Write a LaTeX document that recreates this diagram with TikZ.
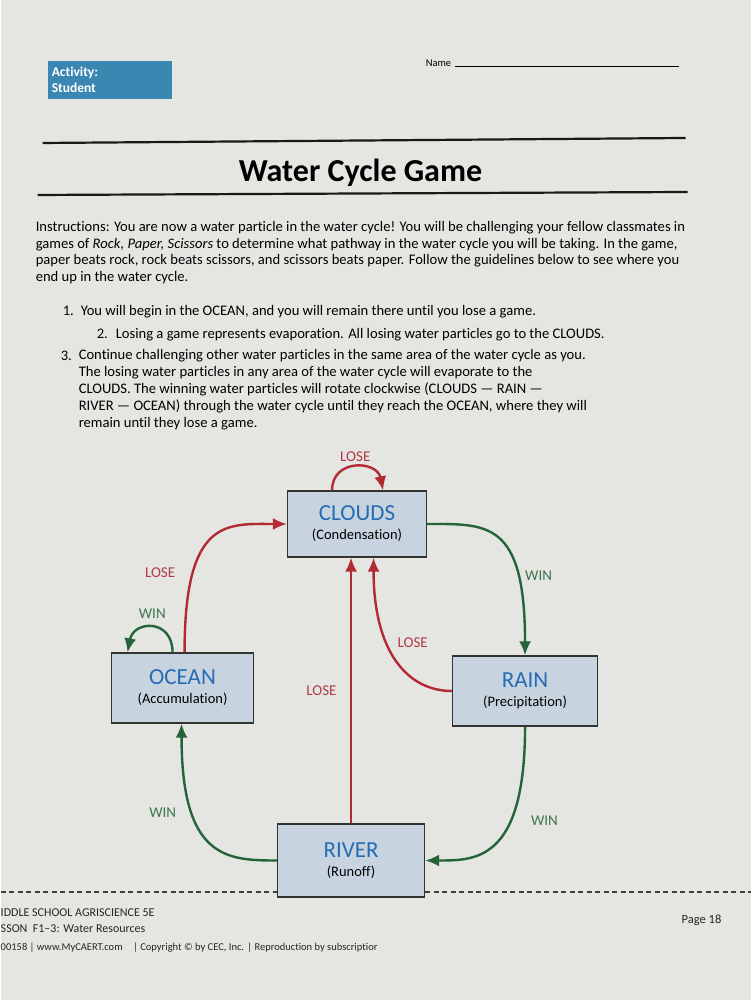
\documentclass[tikz,border=0pt]{standalone}
\usepackage{fontspec}
\setmainfont{Carlito}[Ligatures={TeX,NoCommon}]
\usetikzlibrary{arrows.meta}

\definecolor{paper}{RGB}{229,229,226}
\definecolor{tagblue}{RGB}{58,135,178}
\definecolor{boxfill}{RGB}{199,212,224}
\definecolor{stageblue}{RGB}{38,108,180}
\definecolor{losered}{RGB}{178,42,52}
\definecolor{losetext}{RGB}{176,58,72}
\definecolor{wingreen}{RGB}{36,100,56}
\definecolor{wintext}{RGB}{60,118,78}

\tikzstyle{stage}=[draw=black!80, fill=boxfill, line width=1.3pt, align=center, inner sep=0pt]
\tikzstyle{lose}=[draw=losered, line width=2.4pt]
\tikzstyle{win}=[draw=wingreen, line width=2.4pt]
\tikzstyle{losetag}=[text=losetext, font=\fontsize{15}{18}\selectfont]
\tikzstyle{wintag}=[text=wintext, font=\fontsize{15}{18}\selectfont]
\tikzstyle{rule}=[line width=2.2pt, black!90]
\tikzstyle{body}=[anchor=north west, align=left, inner sep=0pt, font=\fontsize{14.6}{16.7}\selectfont,
  execute at begin node=\strut]
\tikzstyle{cut}=[dash pattern=on 5pt off 3.5pt, line width=1.1pt, black!75]
\tikzstyle{foot}=[anchor=west, inner sep=0pt, text=black!85]

\newcommand{\stagename}[2]{{\fontsize{23}{26}\selectfont\color{stageblue}#1}\\[7pt]{\fontsize{14.5}{17}\selectfont #2}}

\begin{document}
\begin{tikzpicture}[x=1pt, y=1pt, >={Latex[length=14pt,width=12pt]}]
  \fill[paper] (0,0) rectangle (750,1000);

  % header
  \node (tag) [fill=tagblue, minimum width=124pt, minimum height=38pt, anchor=north west,
    inner xsep=4pt, text width=116pt, align=left, text=white,
    font=\fontsize{13.5}{16}\selectfont\bfseries] at (47,939) {Activity:\\Student};
  \node (name) [anchor=base west, inner sep=0pt, font=\fontsize{10.5}{12}\selectfont] at (425,933) {Name};
  \draw[line width=0.8pt] (name.base east) ++(4,1) -- (678,934);

  \draw[rule] (42,857) -- (685,862);
  \node (title) at (360,827) {\fontsize{32}{38}\selectfont\bfseries Water Cycle Game};
  \draw[rule] (37,805) -- (687,808);

  % instructions
  \node (intro) [body] at (35,779) {Instructions: You are now a water particle in the water cycle! You will be challenging your fellow classmates in\\
    games of \textit{Rock, Paper, Scissors} to determine what pathway in the water cycle you will be taking. In the game,\\
    paper beats rock, rock beats scissors, and scissors beats paper. Follow the guidelines below to see where you\\
    end up in the water cycle.};

  \node (num1) [body] at (62,696) {1.};
  \node (item1) [body] at (80,696) {You will begin in the OCEAN, and you will remain there until you lose a game.};
  \node (num2) [body] at (96,673) {2.};
  \node (item2) [body] at (115,673) {Losing a game represents evaporation. All losing water particles go to the CLOUDS.};
  \node (num3) [body] at (60,651) {3.};
  \node (item3) [body, font=\fontsize{14.6}{17}\selectfont] at (78,651) {Continue challenging other water particles in the same area of the water cycle as you.\\
    The losing water particles in any area of the water cycle will evaporate to the\\
    CLOUDS. The winning water particles will rotate clockwise (CLOUDS \textemdash{} RAIN \textemdash\\
    RIVER \textemdash{} OCEAN) through the water cycle until they reach the OCEAN, where they will\\
    remain until they lose a game.};

  % cut line
  \coordinate (dashL) at (0,108);
  \coordinate (dashR) at (750,108);

  % stages
  \node (clouds) [stage, minimum width=139pt, minimum height=66pt] at (356.5,476) {\stagename{CLOUDS}{(Condensation)}};
  \node (ocean) [stage, minimum width=142pt, minimum height=70pt] at (182,312) {\stagename{OCEAN}{(Accumulation)}};
  \node (rain) [stage, minimum width=145pt, minimum height=70pt] at (524.5,309) {\stagename{RAIN}{(Precipitation)}};
  \node (river) [stage, minimum width=147pt, minimum height=73pt] at (350.5,139.5) {\stagename{RIVER}{(Runoff)}};

  \draw[cut] (dashL) -- (dashL -| river.west);
  \draw[cut] (river.east |- dashR) -- (dashR);

  % moves
  \draw[lose,->] ([xshift=-25pt]clouds.north) .. controls +(0,32) and +(-6,30) .. ([xshift=26pt]clouds.north)
    node[losetag, pos=.5, above=1pt] {LOSE};
  \draw[win,->] ([xshift=-10pt]ocean.north) .. controls +(0,34) and +(6,32) .. ([xshift=-55pt]ocean.north)
    node[wintag, pos=.5, above=5pt] {WIN};
  \draw[lose,->] ([xshift=2pt]ocean.north) .. controls +(0,135) and +(-60,0) .. (clouds.west)
    node[losetag, pos=.26, left=13pt] {LOSE};
  \draw[win,->] (clouds.east) .. controls +(60,0) and +(0,135) .. (rain.north)
    node[wintag, pos=.74, right=3pt] {WIN};
  \draw[lose,->] (rain.west) .. controls +(-44,0) and +(0,-95) .. ([xshift=16.5pt]clouds.south)
    node[losetag, pos=.62, right=6pt] {LOSE};
  \draw[lose,->] (river.north) -- (river.north |- clouds.south)
    node[losetag, midway, left=10pt] {LOSE};
  \draw[win,->] (rain.south) .. controls +(0,-135) and +(50,0) .. (river.east)
    node[wintag, pos=.33, right=16pt] {WIN};
  \draw[win,->] (river.west) .. controls +(-50,0) and +(0,-135) .. ([xshift=-1pt]ocean.south)
    node[wintag, pos=.7, left=12pt] {WIN};

  % footer
  \node (foot1) [foot, font=\fontsize{12}{14}\selectfont] at (0,87) {IDDLE SCHOOL AGRISCIENCE 5E};
  \node (foot2) [foot, font=\fontsize{12}{14}\selectfont] at (0,71) {SSON\ \ F1\textendash3: Water Resources};
  \node (foot3) [foot, font=\fontsize{10.5}{12}\selectfont] at (0,52) {00158 | www.MyCAERT.com\quad | Copyright \textcopyright{} by CEC, Inc. | Reproduction by subscriptior};
  \node (page) [inner sep=0pt, text=black!85, font=\fontsize{12.5}{14}\selectfont] at (701,80) {Page 18};
\end{tikzpicture}
\end{document}
